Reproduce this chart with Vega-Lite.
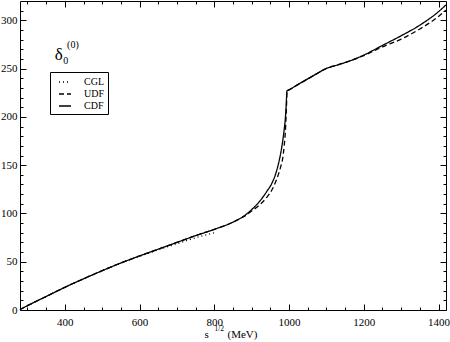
{
  "$schema": "https://vega.github.io/schema/vega-lite/v6.json",
  "width": 426,
  "height": 309,
  "autosize": {"type": "none"},
  "padding": {"left": 20, "top": 1, "right": 4, "bottom": 32},
  "background": "white",
  "config": {
    "font": "Liberation Serif",
    "view": {"stroke": "black", "strokeWidth": 1},
    "axis": {"domain": false, "grid": false, "tickColor": "black", "labelColor": "black", "titleColor": "black", "labelFontSize": 11, "titleFontSize": 11, "titleFontWeight": "normal", "labelFlush": false, "labelOverlap": false, "labelFont": "Liberation Serif", "titleFont": "Liberation Serif"},
    "legend": {"labelFont": "Liberation Serif"}
  },
  "datasets": {
    "curves": [
      {"x": 280, "y": 0.5, "model": "CDF"}, {"x": 300, "y": 4.5, "model": "CDF"}, {"x": 350, "y": 14, "model": "CDF"}, {"x": 400, "y": 23.5, "model": "CDF"}, {"x": 450, "y": 32.3, "model": "CDF"}, {"x": 500, "y": 40.7, "model": "CDF"}, {"x": 550, "y": 48.7, "model": "CDF"}, {"x": 600, "y": 56, "model": "CDF"}, {"x": 650, "y": 63, "model": "CDF"}, {"x": 700, "y": 70, "model": "CDF"}, {"x": 750, "y": 77, "model": "CDF"}, {"x": 800, "y": 83.5, "model": "CDF"}, {"x": 850, "y": 91, "model": "CDF"}, {"x": 870, "y": 95, "model": "CDF"}, {"x": 880, "y": 97.5, "model": "CDF"}, {"x": 900, "y": 104, "model": "CDF"}, {"x": 920, "y": 112, "model": "CDF"}, {"x": 940, "y": 122.5, "model": "CDF"}, {"x": 955, "y": 132, "model": "CDF"}, {"x": 965, "y": 142, "model": "CDF"}, {"x": 972, "y": 152, "model": "CDF"}, {"x": 978, "y": 163, "model": "CDF"}, {"x": 983, "y": 175, "model": "CDF"}, {"x": 987, "y": 187, "model": "CDF"}, {"x": 990, "y": 198, "model": "CDF"}, {"x": 992, "y": 210, "model": "CDF"}, {"x": 993.5, "y": 222, "model": "CDF"}, {"x": 994.5, "y": 227, "model": "CDF"}, {"x": 1000, "y": 228, "model": "CDF"}, {"x": 1020, "y": 232.6, "model": "CDF"}, {"x": 1050, "y": 239.3, "model": "CDF"}, {"x": 1080, "y": 246, "model": "CDF"}, {"x": 1096, "y": 249.5, "model": "CDF"}, {"x": 1130, "y": 253.8, "model": "CDF"}, {"x": 1163, "y": 258, "model": "CDF"}, {"x": 1200, "y": 264, "model": "CDF"}, {"x": 1250, "y": 274, "model": "CDF"}, {"x": 1300, "y": 284, "model": "CDF"}, {"x": 1350, "y": 295, "model": "CDF"}, {"x": 1400, "y": 309, "model": "CDF"}, {"x": 1420, "y": 316, "model": "CDF"},
      {"x": 280, "y": 0.5, "model": "UDF"}, {"x": 300, "y": 4.5, "model": "UDF"}, {"x": 350, "y": 14, "model": "UDF"}, {"x": 400, "y": 23.5, "model": "UDF"}, {"x": 450, "y": 32.3, "model": "UDF"}, {"x": 500, "y": 40.7, "model": "UDF"}, {"x": 550, "y": 48.7, "model": "UDF"}, {"x": 600, "y": 56, "model": "UDF"}, {"x": 650, "y": 63, "model": "UDF"}, {"x": 700, "y": 70, "model": "UDF"}, {"x": 750, "y": 77, "model": "UDF"}, {"x": 800, "y": 83.5, "model": "UDF"}, {"x": 850, "y": 91, "model": "UDF"}, {"x": 870, "y": 95, "model": "UDF"}, {"x": 880, "y": 97, "model": "UDF"}, {"x": 900, "y": 102.5, "model": "UDF"}, {"x": 920, "y": 108.5, "model": "UDF"}, {"x": 940, "y": 116.5, "model": "UDF"}, {"x": 955, "y": 125, "model": "UDF"}, {"x": 965, "y": 133.5, "model": "UDF"}, {"x": 972, "y": 141, "model": "UDF"}, {"x": 978, "y": 149, "model": "UDF"}, {"x": 983, "y": 157, "model": "UDF"}, {"x": 987, "y": 170, "model": "UDF"}, {"x": 990, "y": 184, "model": "UDF"}, {"x": 992, "y": 200, "model": "UDF"}, {"x": 993.5, "y": 215, "model": "UDF"}, {"x": 994.5, "y": 227, "model": "UDF"}, {"x": 1000, "y": 228, "model": "UDF"}, {"x": 1020, "y": 232.6, "model": "UDF"}, {"x": 1050, "y": 239.3, "model": "UDF"}, {"x": 1080, "y": 246, "model": "UDF"}, {"x": 1096, "y": 249.5, "model": "UDF"}, {"x": 1130, "y": 253.8, "model": "UDF"}, {"x": 1163, "y": 258, "model": "UDF"}, {"x": 1200, "y": 263.5, "model": "UDF"}, {"x": 1250, "y": 272.5, "model": "UDF"}, {"x": 1300, "y": 280.5, "model": "UDF"}, {"x": 1350, "y": 291, "model": "UDF"}, {"x": 1400, "y": 304, "model": "UDF"}, {"x": 1420, "y": 310.5, "model": "UDF"},
      {"x": 280, "y": 0.5, "model": "CGL"}, {"x": 300, "y": 4.5, "model": "CGL"}, {"x": 350, "y": 14, "model": "CGL"}, {"x": 400, "y": 23.5, "model": "CGL"}, {"x": 450, "y": 32.3, "model": "CGL"}, {"x": 500, "y": 40.7, "model": "CGL"}, {"x": 550, "y": 48.6, "model": "CGL"}, {"x": 600, "y": 55.6, "model": "CGL"}, {"x": 650, "y": 62.3, "model": "CGL"}, {"x": 700, "y": 68.6, "model": "CGL"}, {"x": 750, "y": 74.8, "model": "CGL"}, {"x": 800, "y": 80, "model": "CGL"}
    ],
    "greek": [{"x": 373, "y": 259, "t": "δ"}],
    "scripts": [{"x": 396, "y": 254.5, "t": "0"}, {"x": 406, "y": 271, "t": "(0)"}]
  },
  "layer": [
    {
      "data": {"name": "curves"},
      "mark": {"type": "line", "color": "black", "strokeWidth": 1.3, "interpolate": "monotone"},
      "encoding": {
        "x": {"field": "x", "type": "quantitative", "scale": {"domain": [280, 1420], "nice": false, "zero": false},
          "axis": {"orient": "bottom", "values": [400, 600, 800, 1000, 1200, 1400], "format": "d", "tickSize": -6, "labelPadding": 12, "title": "s", "titleX": 184, "titleY": 27, "titleAlign": "left", "titleBaseline": "alphabetic", "titleAnchor": "start"}},
        "y": {"field": "y", "type": "quantitative", "scale": {"domain": [0, 320], "nice": false, "zero": false},
          "axis": {"orient": "left", "values": [0, 50, 100, 150, 200, 250, 300], "format": "d", "tickSize": -6, "labelPadding": 9, "title": null}},
        "strokeDash": {"field": "model", "type": "nominal",
          "scale": {"domain": ["CGL", "UDF", "CDF"], "range": [[1, 3], [5, 3], [1, 0]]},
          "legend": {"orient": "none", "legendX": 30, "legendY": 71, "title": null, "strokeColor": "black", "padding": 3, "symbolType": "stroke", "symbolSize": 144, "symbolOffset": 5, "symbolStrokeWidth": 1.3, "symbolStrokeColor": "black", "labelFontSize": 10, "labelOffset": 12, "rowPadding": -3, "labelColor": "black"}}
      }
    },
    {
      "data": {"name": "curves"},
      "mark": {"type": "line", "opacity": 0},
      "encoding": {
        "x": {"field": "x", "type": "quantitative", "axis": {"orient": "top", "values": [400, 600, 800, 1000, 1200, 1400], "tickSize": -6, "labels": false, "title": null}},
        "y": {"field": "y", "type": "quantitative", "axis": {"orient": "right", "values": [0, 50, 100, 150, 200, 250, 300], "tickSize": -6, "labels": false, "title": null}}
      }
    },
    {
      "data": {"name": "curves"},
      "mark": {"type": "line", "opacity": 0},
      "encoding": {
        "x": {"field": "x", "type": "quantitative", "axis": {"orient": "bottom", "values": [300, 350, 450, 500, 550, 650, 700, 750, 850, 900, 950, 1050, 1100, 1150, 1250, 1300, 1350], "tickSize": -3, "labels": false, "title": "1/2", "titleFontSize": 7.5, "titleX": 194, "titleY": 20.5, "titleAlign": "left", "titleBaseline": "alphabetic", "titleAnchor": "start"}},
        "y": {"field": "y", "type": "quantitative", "axis": {"orient": "left", "values": [10, 20, 30, 40, 60, 70, 80, 90, 110, 120, 130, 140, 160, 170, 180, 190, 210, 220, 230, 240, 260, 270, 280, 290, 310], "tickSize": -3, "labels": false, "title": null}}
      }
    },
    {
      "data": {"name": "curves"},
      "mark": {"type": "line", "opacity": 0},
      "encoding": {
        "x": {"field": "x", "type": "quantitative", "axis": {"orient": "top", "values": [300, 350, 450, 500, 550, 650, 700, 750, 850, 900, 950, 1050, 1100, 1150, 1250, 1300, 1350], "tickSize": -3, "labels": false, "title": null}},
        "y": {"field": "y", "type": "quantitative", "axis": {"orient": "right", "values": [10, 20, 30, 40, 60, 70, 80, 90, 110, 120, 130, 140, 160, 170, 180, 190, 210, 220, 230, 240, 260, 270, 280, 290, 310], "tickSize": -3, "labels": false, "title": null}}
      }
    },
    {
      "data": {"name": "greek"},
      "mark": {"type": "text", "fontSize": 17, "align": "left", "baseline": "alphabetic", "color": "black"},
      "encoding": {
        "x": {"field": "x", "type": "quantitative", "axis": {"orient": "bottom", "labels": false, "ticks": false, "title": "(MeV)", "titleX": 207, "titleY": 27, "titleAlign": "left", "titleBaseline": "alphabetic", "titleAnchor": "start"}},
        "y": {"field": "y", "type": "quantitative", "axis": null},
        "text": {"field": "t"}
      }
    },
    {
      "data": {"name": "scripts"},
      "mark": {"type": "text", "fontSize": 10, "align": "left", "baseline": "alphabetic", "color": "black"},
      "encoding": {
        "x": {"field": "x", "type": "quantitative", "axis": null},
        "y": {"field": "y", "type": "quantitative", "axis": null},
        "text": {"field": "t"}
      }
    }
  ],
  "resolve": {"axis": {"x": "independent", "y": "independent"}}
}
